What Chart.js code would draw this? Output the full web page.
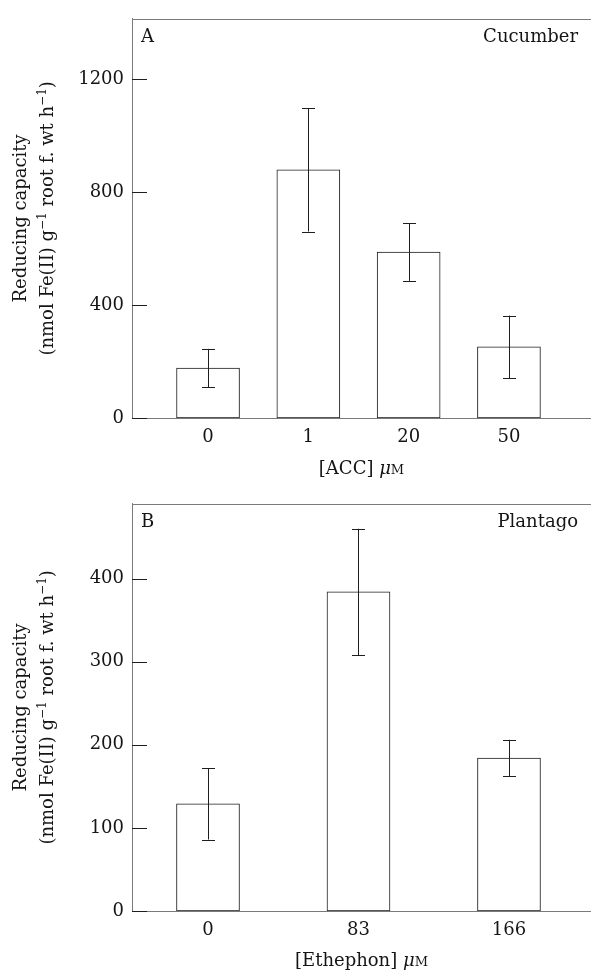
<!DOCTYPE html>
<html>
<head>
<meta charset="utf-8">
<script src="https://cdn.jsdelivr.net/npm/chart.js@4.4.1/dist/chart.umd.min.js"></script>
<style>
  body { margin: 0; background: #fff; }
  canvas { display: block; }
</style>
</head>
<body>
<canvas id="chartA" width="591" height="485"></canvas>
<canvas id="chartB" width="591" height="485"></canvas>
<script>
// Panel A: cucumber, ACC treatment
const catsA = ['0', '1', '20', '50'];
const valsA = [177, 880, 588, 252];
const errA = [68, 219, 102, 111];
const yTicksA = [0, 400, 800, 1200];

// Panel B: plantago, ethephon treatment
const catsB = ['0', '83', '166'];
const valsB = [129, 384, 184];
const errB = [43, 76, 22];
const yTicksB = [0, 100, 200, 300, 400];

const FONT = '"DejaVu Serif", "Liberation Serif", serif';
const FONT_SIZE = 18;
const AXIS_GREY = '#7a7a7a';
const INK = '#1e1e1e';
const TEXT = '#151515';

// text pieces drawn one after the other, sup = raised and smaller
function drawPieces(ctx, pieces, cx, cy) {
    const fNorm = FONT_SIZE + 'px ' + FONT;
    const widths = pieces.map(p => {
        ctx.font = p.font || fNorm;
        return ctx.measureText(p.t).width;
    });
    let tx = cx - widths.reduce((a, b) => a + b, 0) / 2;
    ctx.textAlign = 'left';
    ctx.textBaseline = 'alphabetic';
    pieces.forEach((p, i) => {
        ctx.font = p.font || fNorm;
        ctx.fillText(p.t, tx, cy - (p.rise || 0));
        tx += widths[i];
    });
}

// draws frame top, inward ticks, error bars and the texts
const decorPlugin = {
    id: 'decor',
    afterDraw(chart, args, opts) {
        const ctx = chart.ctx;
        const area = chart.chartArea;
        const x = chart.scales.x;
        const y = chart.scales.y;
        ctx.save();

        // top frame line
        ctx.strokeStyle = AXIS_GREY;
        ctx.lineWidth = 1;
        ctx.beginPath();
        ctx.moveTo(area.left, Math.round(area.top) + 0.5);
        ctx.lineTo(area.right, Math.round(area.top) + 0.5);
        ctx.stroke();

        // inward y ticks
        ctx.strokeStyle = INK;
        opts.yTicks.forEach(v => {
            const py = Math.round(y.getPixelForValue(v)) + 0.5;
            ctx.beginPath();
            ctx.moveTo(area.left, py);
            ctx.lineTo(area.left + 15, py);
            ctx.stroke();
        });

        // error bars
        opts.values.forEach((v, i) => {
            const px = Math.round(x.getPixelForValue(i)) + 0.5;
            const hi = y.getPixelForValue(v + opts.errors[i]);
            const lo = y.getPixelForValue(v - opts.errors[i]);
            ctx.beginPath();
            ctx.moveTo(px, hi);
            ctx.lineTo(px, lo);
            ctx.moveTo(px - 6.5, Math.round(hi) + 0.5);
            ctx.lineTo(px + 6.5, Math.round(hi) + 0.5);
            ctx.moveTo(px - 6.5, Math.round(lo) + 0.5);
            ctx.lineTo(px + 6.5, Math.round(lo) + 0.5);
            ctx.stroke();
        });

        // panel letter and species
        ctx.fillStyle = TEXT;
        ctx.font = FONT_SIZE + 'px ' + FONT;
        ctx.textBaseline = 'middle';
        ctx.textAlign = 'left';
        ctx.fillText(opts.letter, area.left + 9, area.top + 19);
        ctx.textAlign = 'right';
        ctx.fillText(opts.species, area.right - 13, area.top + 19);

        // y title, two rotated lines
        const midY = (area.top + area.bottom) / 2;
        const fSup = '12px ' + FONT;
        ctx.save();
        ctx.translate(21, midY);
        ctx.rotate(-Math.PI / 2);
        ctx.textAlign = 'center';
        ctx.fillText('Reducing capacity', 0, 0);
        ctx.restore();
        ctx.save();
        ctx.translate(47, midY);
        ctx.rotate(-Math.PI / 2);
        drawPieces(ctx, [
            { t: '(nmol Fe(II) g' },
            { t: '\u22121', font: fSup, rise: 7 },
            { t: ' root f. wt h' },
            { t: '\u22121', font: fSup, rise: 7 },
            { t: ')' }
        ], 0, 6);
        ctx.restore();

        // x title with italic mu and small-cap M
        drawPieces(ctx, [
            { t: opts.xTitle + ' ' },
            { t: '\u03BC', font: 'italic ' + FONT_SIZE + 'px ' + FONT },
            { t: 'M', font: '13px ' + FONT }
        ], (area.left + area.right) / 2, area.bottom + opts.xTitleGap);

        ctx.restore();
    }
};

function makePanel(id, cats, vals, errs, yTicks, yMax, xMin, xMax, topPad, xAxisHeight, letter, species, xTitle, xTitleGap) {
    const ctx = document.getElementById(id).getContext('2d');
    return new Chart(ctx, {
        type: 'bar',
        data: {
            datasets: [{
                data: vals.map((v, i) => ({ x: i, y: v })),
                backgroundColor: '#ffffff',
                borderColor: INK,
                borderWidth: 1,
                borderSkipped: false,
                barThickness: 63
            }]
        },
        options: {
            responsive: false,
            animation: false,
            devicePixelRatio: 1,
            layout: { padding: { top: topPad, right: 0, bottom: 0, left: 0 } },
            plugins: {
                legend: { display: false },
                tooltip: { enabled: false },
                decor: {
                    values: vals, errors: errs, yTicks: yTicks,
                    letter: letter, species: species,
                    xTitle: xTitle, xTitleGap: xTitleGap
                }
            },
            scales: {
                x: {
                    type: 'linear',
                    offset: false,
                    min: xMin,
                    max: xMax,
                    grid: { display: false, drawTicks: false },
                    border: { display: true, color: AXIS_GREY, width: 1 },
                    afterBuildTicks: s => { s.ticks = cats.map((c, i) => ({ value: i })); },
                    afterFit: s => { s.height = xAxisHeight; },
                    ticks: {
                        color: TEXT,
                        padding: 9,
                        font: { family: FONT, size: FONT_SIZE },
                        callback: v => cats[v]
                    }
                },
                y: {
                    min: 0,
                    max: yMax,
                    grid: { display: false, drawTicks: false },
                    border: { display: true, color: AXIS_GREY, width: 1 },
                    afterBuildTicks: s => { s.ticks = yTicks.map(v => ({ value: v })); },
                    afterFit: s => { s.width = 132; },
                    ticks: {
                        color: TEXT,
                        padding: 8,
                        font: { family: FONT, size: FONT_SIZE },
                        callback: v => String(v)
                    }
                }
            }
        },
        plugins: [decorPlugin]
    });
}

document.addEventListener('DOMContentLoaded', function() {
    makePanel('chartA', catsA, valsA, errA, yTicksA, 1415, -0.758, 3.818, 10, 67,
        'A', 'Cucumber', '[ACC]', 56);
    makePanel('chartB', catsB, valsB, errB, yTicksB, 490, -0.505, 2.545, 18, 59,
        'B', 'Plantago', '[Ethephon]', 55);
});
</script>
</body>
</html>
